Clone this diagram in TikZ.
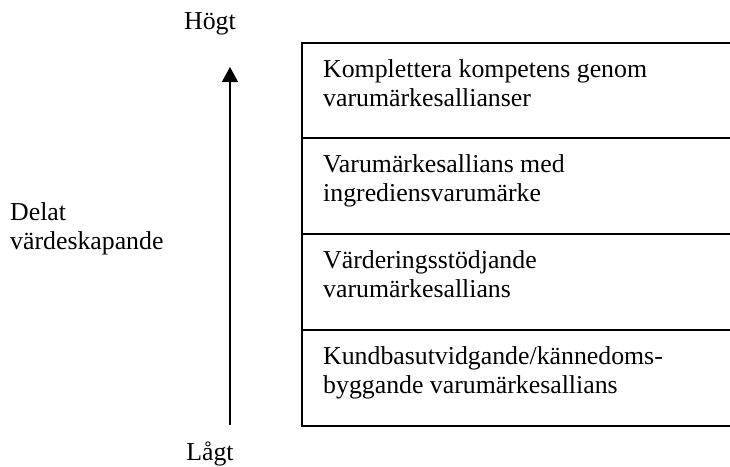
\documentclass[tikz,border=0pt]{standalone}
\usepackage{fontspec}
\setmainfont{Liberation Serif}
\usetikzlibrary{arrows.meta}
\begin{document}
\begin{tikzpicture}[x=1pt,y=-1pt,
  lbl/.style={inner sep=0pt,anchor=base west,font=\fontsize{25.8}{29.5}\selectfont},
  clbl/.style={inner sep=0pt,anchor=base,font=\fontsize{25.8}{29.5}\selectfont},
  frame/.style={draw=black,line width=1.8pt},
  axis/.style={draw=black,line width=1.3pt,-{Triangle[width=16pt,length=15pt]}}]
\useasboundingbox (0,0) rectangle (730,466);
\clip (0,0) rectangle (730,466);
\fill[white] (0,0) rectangle (730,466);
% frame
\coordinate (tl) at (302,43);
\coordinate (br) at (745,426);
\coordinate (d1l) at (302,138); \coordinate (d1r) at (745,138);
\coordinate (d2l) at (302,234); \coordinate (d2r) at (745,234);
\coordinate (d3l) at (302,330); \coordinate (d3r) at (745,330);
\draw[frame] (tl) rectangle (br);
\draw[frame] (d1l) -- (d1r);
\draw[frame] (d2l) -- (d2r);
\draw[frame] (d3l) -- (d3r);
% box texts
\node[lbl] (a1) at (323,77) {Komplettera kompetens genom};
\node[lbl] (a2) at (323,106.5) {varumärkesallianser};
\node[lbl] (b1) at (323,172) {Varumärkesallians med};
\node[lbl] (b2) at (323,201.5) {ingrediensvarumärke};
\node[lbl] (c1) at (323,268) {Värderingsstödjande};
\node[lbl] (c2) at (323,297.5) {varumärkesallians};
\node[lbl] (e1) at (323,364) {Kundbasutvidgande/kännedoms-};
\node[lbl] (e2) at (323,393.5) {byggande varumärkesallians};
% axis
\coordinate (low) at (230,425);
\coordinate (high) at (230,67);
\draw[axis] (low) -- (high);
\node[clbl] (hi) at (210,29) {Högt};
\node[clbl] (lo) at (210,460) {Lågt};
\node[lbl] (l1) at (10,220) {Delat};
\node[lbl] (l2) at (10,249.5) {värdeskapande};
\end{tikzpicture}
\end{document}
